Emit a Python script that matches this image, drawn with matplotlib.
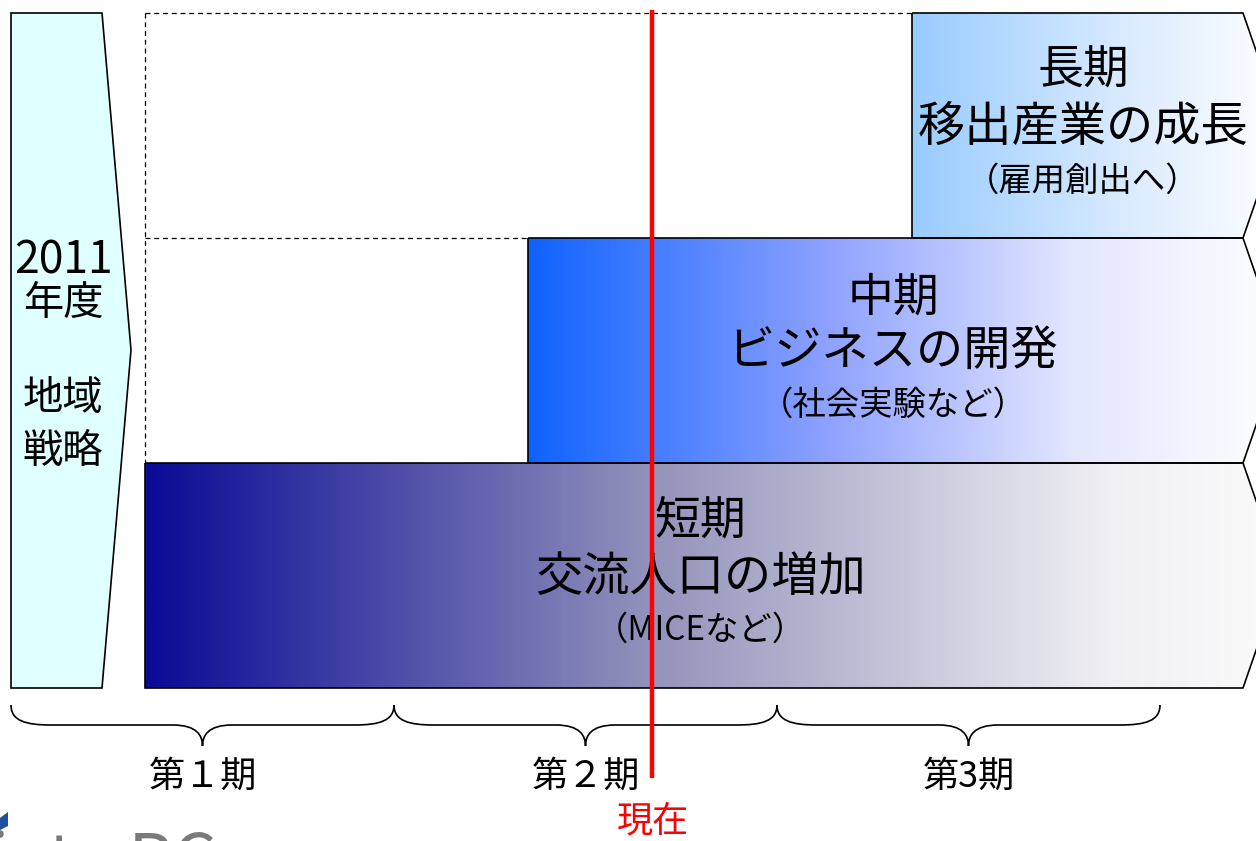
import numpy as np
import matplotlib
matplotlib.use("Agg")
import matplotlib.pyplot as plt
from matplotlib.patches import Polygon, PathPatch
from matplotlib.path import Path
from matplotlib.colors import LinearSegmentedColormap

plt.rcParams['font.family'] = ['Noto Sans CJK JP', 'DejaVu Sans']

# ---- content ----
left_label_top = ["2011", "年度"]
left_label_bottom = ["地域", "戦略"]
stage_titles = ["短期", "中期", "長期"]
stage_mains = ["交流人口の増加", "ビジネスの開発", "移出産業の成長"]
stage_subs = ["（MICEなど）", "（社会実験など）", "（雇用創出へ）"]
period_labels = ["第１期", "第２期", "第3期"]
now_label = "現在"

# ---- layout (pixels) ----
W, H = 1256, 841
fig = plt.figure(figsize=(W / 100, H / 100), dpi=100)
ax = fig.add_axes([0, 0, 1, 1])
ax.set_xlim(0, W)
ax.set_ylim(H, 0)
ax.axis('off')

X0, XR, TIP = 145, 1243, 1282
stage_left = [145, 528, 912]
rows_top = [463, 238, 13]
row_h = 225
text_x = [700, 893, 1083]
ycent = [[520, 578, 630], [297, 353, 405], [70, 128, 181]]

# left chevron
left = Polygon([(11, 13), (102, 13), (131, 350), (102, 688), (11, 688)], closed=True,
               facecolor='#e0ffff', edgecolor='black', lw=1.2, zorder=2)
ax.add_patch(left)
lf = dict(ha='center', va='center', fontsize=29, color='black', zorder=5)
ax.text(63, 260, left_label_top[0], fontsize=32, ha='center', va='center', zorder=5)
ax.text(63, 303, left_label_top[1], **lf)
ax.text(63, 398, left_label_bottom[0], **lf)
ax.text(63, 451, left_label_bottom[1], **lf)

# dashed frame
dash = dict(color='black', lw=0.9, ls=(0, (4, 3)), zorder=1)
ax.plot([X0, 912], [13, 13], **dash)
ax.plot([X0, X0], [13, 463], **dash)
ax.plot([X0, 528], [238, 238], **dash)

grads = [
    [(0.0, '#0a0a96'), (0.45, '#9494bc'), (0.85, '#f0f0f4'), (1.0, '#fbfbfb')],
    [(0.0, '#0f62ff'), (0.4, '#8fa2ff'), (0.72, '#e2e6ff'), (1.0, '#ffffff')],
    [(0.0, '#99ccff'), (0.6, '#dcecff'), (1.0, '#ffffff')],
]
for i in range(3):
    xs = stage_left[i]
    yt = rows_top[i]
    yb = yt + row_h
    pts = [(xs, yt), (XR, yt), (TIP, (yt + yb) / 2), (XR, yb), (xs, yb)]
    poly = Polygon(pts, closed=True, facecolor='none', edgecolor='black', lw=1.2, zorder=3)
    ax.add_patch(poly)
    cmap = LinearSegmentedColormap.from_list('g%d' % i, grads[i])
    grad = np.linspace(0, 1, 512).reshape(1, -1)
    im = ax.imshow(grad, cmap=cmap, aspect='auto', extent=(xs, TIP, yb, yt), zorder=2)
    clip = Polygon(pts, closed=True, transform=ax.transData, facecolor='none', edgecolor='none')
    ax.add_patch(clip)
    im.set_clip_path(clip)
    xc = text_x[i]
    ax.text(xc, ycent[i][0], stage_titles[i], ha='center', va='center', fontsize=33, zorder=5)
    ax.text(xc, ycent[i][1], stage_mains[i], ha='center', va='center', fontsize=34, zorder=5)
    ax.text(xc, ycent[i][2], stage_subs[i], ha='center', va='center', fontsize=24, zorder=5)

# braces
def brace(x0, x1, ytop=705, ymid=725, ytip=746):
    xm = (x0 + x1) / 2
    verts = [(x0, ytop), (x0, ymid - 4), (x0 + 15, ymid), (x0 + 40, ymid),
             (xm - 30, ymid), (xm - 5, ymid), (xm, ytip - 10), (xm, ytip),
             (xm, ytip - 10), (xm + 5, ymid), (xm + 30, ymid),
             (x1 - 40, ymid), (x1 - 15, ymid), (x1, ymid - 4), (x1, ytop)]
    codes = [Path.MOVETO, Path.CURVE4, Path.CURVE4, Path.CURVE4,
             Path.LINETO, Path.CURVE4, Path.CURVE4, Path.CURVE4,
             Path.CURVE4, Path.CURVE4, Path.CURVE4,
             Path.LINETO, Path.CURVE4, Path.CURVE4, Path.CURVE4]
    ax.add_patch(PathPatch(Path(verts, codes), facecolor='none', edgecolor='black', lw=1.2, zorder=3))
    return xm

bx = [11, 394, 777, 1160]
for k in range(3):
    xm = brace(bx[k], bx[k + 1])
    ax.text(xm, 777, period_labels[k], ha='center', va='center', fontsize=26, zorder=5)

# now line
xnow = 652
ax.plot([xnow, xnow], [10, 778], color='#ff0000', lw=3.2, zorder=6, solid_capstyle='butt')
ax.text(xnow + 1, 822, now_label, ha='center', va='center', fontsize=26, color='#ff0000', zorder=6)

# cut-off logo fragment
ax.text(-10, 884, "iate PC", ha='left', va='baseline', fontsize=50, color='#7a7a7a', zorder=1)
ax.add_patch(Polygon([(0, 818), (8, 812), (8, 826), (0, 830)], closed=True,
                     facecolor='#1f4e9a', edgecolor='none'))

fig.savefig('out.png', dpi=100)
